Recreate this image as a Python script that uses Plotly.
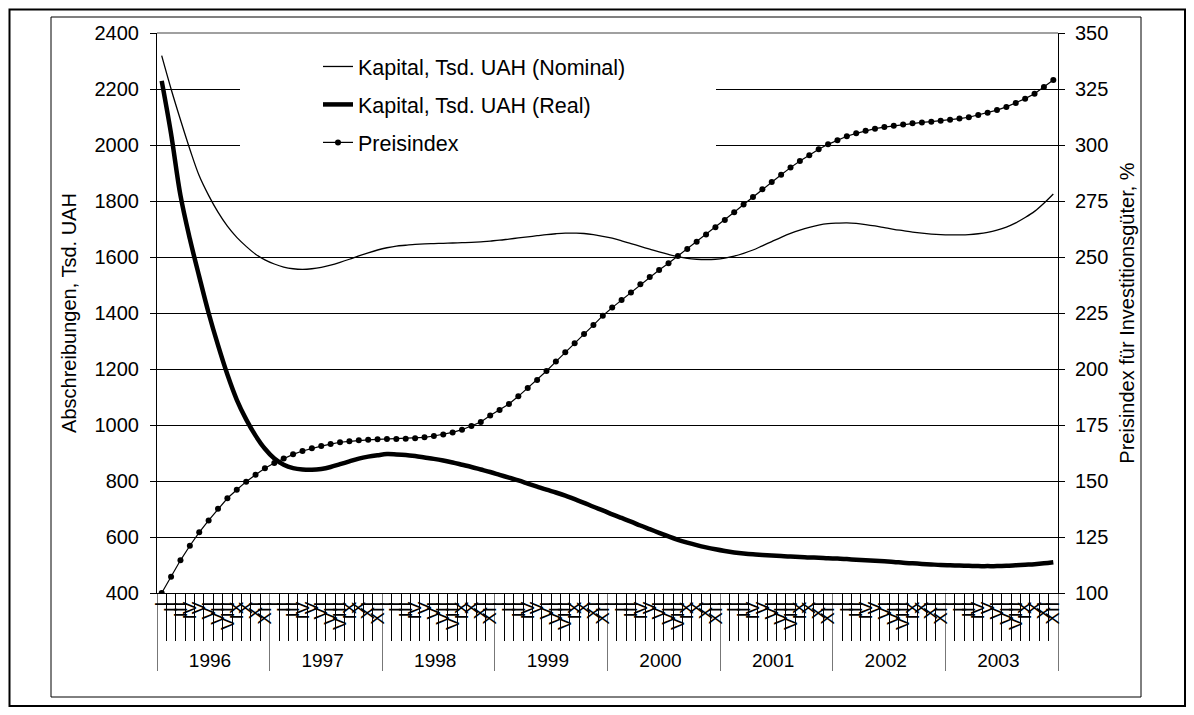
import plotly.graph_objects as go

years = ["1996", "1997", "1998", "1999", "2000", "2001", "2002", "2003"]
months = ["I", "II", "III", "IV", "V", "VI", "VII", "VIII", "IX", "X", "XI", "XII"]

nominal = [
    2319, 2200, 2090, 1985, 1890, 1820, 1760, 1710, 1670, 1638, 1610, 1590,
    1575, 1564, 1558, 1556, 1558, 1563, 1571, 1581, 1592, 1604, 1615, 1625,
    1633, 1639, 1642, 1645, 1647, 1648, 1649, 1650, 1651, 1652, 1654, 1657,
    1660, 1664, 1668, 1672, 1676, 1680, 1683, 1685, 1685, 1684, 1680, 1674,
    1667, 1658, 1648, 1638, 1628, 1618, 1609, 1601, 1595, 1592, 1591, 1592,
    1596, 1603, 1613, 1625, 1640, 1655, 1670, 1684, 1696, 1706, 1714, 1719,
    1721, 1722, 1720, 1716, 1711, 1705, 1699, 1694, 1689, 1685, 1682, 1680,
    1679, 1679, 1680, 1683, 1688, 1696, 1707, 1722, 1741, 1763, 1792, 1825,
]

real = [
    2229, 2040, 1820, 1665, 1530, 1400, 1285, 1180, 1090, 1020, 962, 915,
    880, 858, 846, 841, 840, 843, 850, 860, 870, 880, 887, 892,
    896, 895, 893, 889, 884, 879, 873, 866, 858, 850, 841, 832,
    822, 812, 802, 791, 780, 769, 759, 748, 735, 722, 708, 695,
    681, 668, 655, 641, 628, 615, 602, 590, 580, 571, 563, 556,
    550, 545, 541, 538, 536, 534, 532, 530, 529, 527, 526, 524,
    523, 521, 519, 517, 515, 513, 511, 508, 506, 504, 502, 500,
    499, 498, 497, 496, 496, 496, 497, 499, 501, 503, 506, 510,
]

preisindex = [
    100.0, 107.3, 114.6, 121.1, 127.1, 132.4, 137.6, 142.3, 146.1, 149.7, 152.8, 155.7,
    158.0, 160.0, 161.9, 163.4, 164.6, 165.6, 166.5, 167.3, 167.7, 168.2, 168.4, 168.6,
    168.8, 168.8, 168.9, 169.1, 169.5, 170.1, 170.8, 171.7, 172.9, 174.5, 176.3, 179.2,
    181.7, 184.4, 187.8, 191.5, 195.1, 199.1, 203.3, 207.5, 211.5, 215.6, 219.6, 223.8,
    227.4, 230.8, 234.2, 237.8, 241.1, 244.2, 247.2, 250.4, 253.6, 256.8, 260.0, 263.3,
    266.5, 270.0, 273.4, 276.8, 280.2, 283.5, 286.7, 289.9, 292.9, 295.4, 298.1, 300.3,
    302.1, 303.9, 305.2, 306.4, 307.3, 308.0, 308.6, 309.1, 309.7, 310.1, 310.4, 310.8,
    311.3, 311.8, 312.4, 313.4, 314.4, 315.6, 317.0, 318.8, 320.7, 322.9, 325.9, 329.0,
]

x_year = [y for y in years for _ in months]
x_month = [m for _ in years for m in months]
xcat = [x_year, x_month]

FONT = "Liberation Sans, Arial, sans-serif"

# page body has an 8px margin; plot area in page coords: x 157..1058, y 33..593
OFF = 8
PL, PT, PW, PH = 157 - OFF, 33 - OFF, 901, 560
W, H = 1178, 699


def px(xp):
    return (xp - 157) / PW


def py(yp):
    return (593 - yp) / PH


fig = go.Figure()
fig.add_trace(go.Scatter(
    x=xcat, y=nominal, name="Kapital, Tsd. UAH (Nominal)", mode="lines",
    line=dict(color="black", width=1.3, shape="spline"), legendgroup="a"))
fig.add_trace(go.Scatter(
    x=xcat, y=real, name="Kapital, Tsd. UAH (Real)", mode="lines",
    line=dict(color="black", width=4.5, shape="spline"), legendgroup="b"))
fig.add_trace(go.Scatter(
    x=xcat, y=preisindex, name="Preisindex", mode="lines+markers", yaxis="y2",
    line=dict(color="black", width=1.2),
    marker=dict(color="black", size=6), legendgroup="c"))

# white box behind legend covering gridlines
fig.add_shape(type="rect", xref="paper", yref="paper",
              x0=px(240), x1=px(716), y0=py(165), y1=py(47),
              fillcolor="white", line=dict(width=0), layer="above")
# grey top border of the plot area
fig.add_shape(type="line", xref="paper", yref="paper", x0=0, x1=1, y0=1, y1=1,
              line=dict(color="#808080", width=1.5), layer="above")
# outer frames
fig.add_shape(type="rect", xref="paper", yref="paper",
              x0=px(9.5), x1=px(1185), y0=py(706), y1=py(9.5),
              line=dict(color="black", width=2), fillcolor="rgba(0,0,0,0)")
fig.add_shape(type="rect", xref="paper", yref="paper",
              x0=px(51), x1=px(1141), y0=py(697), y1=py(17),
              line=dict(color="black", width=1), fillcolor="rgba(0,0,0,0)")

fig.update_layout(
    width=W, height=H,
    margin=dict(l=PL, r=W - PL - PW, t=PT, b=H - PT - PH, autoexpand=False),
    paper_bgcolor="white", plot_bgcolor="white",
    font=dict(family=FONT, size=20, color="black"),
    showlegend=True,
    legend=dict(x=px(318), y=py(46), xanchor="left", yanchor="top",
                bgcolor="rgba(0,0,0,0)", font=dict(size=21.5, family=FONT),
                traceorder="grouped", tracegroupgap=7, itemwidth=30),
    xaxis=dict(type="multicategory", showline=True, linecolor="black", linewidth=1,
               tickmode="linear", tick0=0, dtick=1,
               ticks="outside", ticklen=47, tickcolor="black", tickson="boundaries",
               tickangle=-90, tickfont=dict(size=19),
               showdividers=True, dividercolor="#777", dividerwidth=1,
               showgrid=False, range=[-0.5, 95.5]),
    yaxis=dict(range=[400, 2400], dtick=200, tick0=400, showline=True, linecolor="black",
               ticks="outside", ticklen=6, tickcolor="black", ticklabelstandoff=7,
               showgrid=True, gridcolor="black", gridwidth=1, zeroline=False,
               title=dict(text="Abschreibungen, Tsd. UAH", standoff=12, font=dict(size=20)),
               tickfont=dict(size=20)),
    yaxis2=dict(range=[100, 350], dtick=25, tick0=100, overlaying="y", side="right",
                showline=True, linecolor="black", ticks="outside", ticklen=6,
                tickcolor="black", showgrid=False, zeroline=False, ticklabelstandoff=6,
                title=dict(text="Preisindex für Investitionsgüter, %", standoff=12,
                           font=dict(size=20)),
                tickfont=dict(size=20)),
)

fig.write_html("out.html")
